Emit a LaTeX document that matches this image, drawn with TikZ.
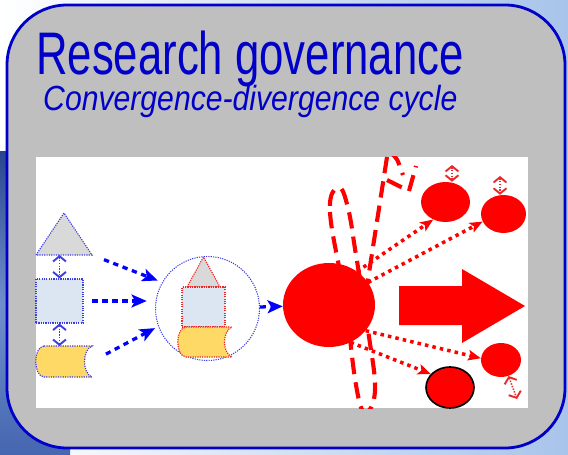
\documentclass[tikz,border=0pt]{standalone}
\usepackage{graphicx}
\usepackage{fontspec}
\setmainfont{Liberation Sans}
\usetikzlibrary{shapes.geometric,arrows.meta,calc}
\definecolor{titleblue}{RGB}{0,0,200}
\definecolor{panelgray}{RGB}{191,191,191}
\definecolor{skyblue}{RGB}{168,196,234}
\definecolor{skydark}{RGB}{42,69,144}
\definecolor{skymid}{RGB}{111,143,204}
\definecolor{skylow}{RGB}{69,102,176}
\definecolor{trigray}{RGB}{217,217,217}
\definecolor{boxblue}{RGB}{220,230,242}
\definecolor{gold}{RGB}{255,217,102}
\definecolor{dotblue}{RGB}{60,60,230}
\definecolor{dotred}{RGB}{235,40,40}

\begin{document}
\begin{tikzpicture}[x=0.03cm, y=-0.03cm,
  shapebox/.style={draw=none, inner sep=0, outer sep=0},
  blueedge/.style={draw=dotblue, line width=1pt, dash pattern=on 1pt off 1pt},
  rededge/.style={draw=dotred, line width=1pt, dash pattern=on 1pt off 1pt},
  blob/.style={ellipse, fill=red, inner sep=0},
  feed/.style={blue, line width=2.8pt, dash pattern=on 4.5pt off 4pt, -{Stealth[length=13pt,width=11pt,inset=3pt]}},
  spread/.style={red, line width=3pt, dash pattern=on 3pt off 3.5pt, -{Stealth[length=11pt,width=9pt,inset=2.5pt]}},
  twoway/.style={line width=1.3pt, dash pattern=on 1.2pt off 1.2pt, {Straight Barb[length=4.5pt,width=11pt,line width=1.6pt]}-{Straight Barb[length=4.5pt,width=11pt,line width=1.6pt]}},
  cutline/.style={red, line width=3.5pt, dash pattern=on 14pt off 7pt}]

  % background and panel
  \useasboundingbox (0,0) rectangle (568,455);
  \fill[left color=white, right color=skyblue] (0,0) rectangle (568,455);
  \fill[top color=skydark, bottom color=skylow, middle color=skymid] (0,152) rectangle (70,455);
  \filldraw[fill=panelgray, draw=titleblue, line width=2.4pt, rounded corners=1.8cm] (7,5) rectangle (565,448);
  \fill[white] (36,157) rectangle (528,408);

  \node[anchor=base west, inner sep=0, text=titleblue, font=\fontsize{51.3}{60}\selectfont] (title) at (36,75) {\scalebox{0.727}[1]{Research governance}};
  \node[anchor=base west, inner sep=0, text=titleblue, font=\fontsize{29.8}{34}\selectfont\itshape] (subtitle) at (43,111) {\scalebox{0.864}[1]{Convergence-divergence cycle}};

  % dashed cut lines
  \begin{scope}
    \clip (36,157) rectangle (528,408);
    \draw[cutline] plot[smooth cycle, tension=0.7] coordinates {(339,188) (330,212) (345,300) (356,385) (365,412) (375,390) (368,330) (356,255) (348,208)};
    \draw[cutline] (387,157) -- (366,292);
    \draw[cutline] (390,152) .. controls (397,158) .. (403,175);
    \draw[cutline] (387,180) -- (409,191) -- (416,166);
  \end{scope}

  % separate parts
  \node[shapebox, minimum width=1.68cm, minimum height=1.26cm] (tri) at (64,234) {};
  \draw[blueedge, fill=trigray] (tri.south west) -- (tri.north) -- (tri.south east) -- cycle;
  \node[rectangle, blueedge, fill=boxblue, minimum width=1.41cm, minimum height=1.32cm, inner sep=0] (sq) at (59.5,301) {};
  \node[shapebox, minimum width=1.68cm, minimum height=0.93cm] (cyl) at (64,361.5) {};
  \draw[blueedge, fill=gold] ($(cyl.north west)+(8,0)$) -- (cyl.north east)
    .. controls +(-10,4) and +(-10,-4) .. (cyl.south east) -- ($(cyl.south west)+(8,0)$)
    .. controls +(-11,-1) and +(-11,1) .. ($(cyl.north west)+(8,0)$) -- cycle;

  % converged group
  \node[circle, draw=dotblue, line width=0.9pt, dash pattern=on 1pt off 1pt, minimum size=3.12cm, inner sep=0] (grp) at (207.5,308.5) {};
  \node[shapebox, minimum width=0.99cm, minimum height=0.9cm] (gtri) at (203.5,272) {};
  \draw[rededge, fill=trigray] (gtri.south west) -- (gtri.north) -- (gtri.south east) -- cycle;
  \node[rectangle, rededge, fill=boxblue, minimum width=1.29cm, minimum height=1.2cm, inner sep=0] (gsq) at (203.5,307) {};
  \node[shapebox, minimum width=1.62cm, minimum height=0.9cm] (gcyl) at (205,342) {};
  \draw[rededge, fill=gold] ($(gcyl.north west)+(8,0)$) -- (gcyl.north east)
    .. controls +(-10,4) and +(-10,-4) .. (gcyl.south east) -- ($(gcyl.south west)+(8,0)$)
    .. controls +(-11,-1) and +(-11,1) .. ($(gcyl.north west)+(8,0)$) -- cycle;

  % diverging blobs
  \node[blob, minimum width=2.76cm, minimum height=2.52cm] (hub) at (329,305) {};
  \node[blob, minimum width=1.47cm, minimum height=1.2cm] (c1) at (445.5,202) {};
  \node[blob, minimum width=1.35cm, minimum height=1.14cm] (c2) at (503.5,214) {};
  \node[blob, minimum width=1.2cm, minimum height=1.02cm] (c3) at (501,360) {};
  \node[blob, draw=black, line width=1.4pt, minimum width=1.44cm, minimum height=1.23cm] (c4) at (450,387.5) {};
  \fill[red] (399,286) -- (462,286) -- (462,269) -- (525,306) -- (462,343) -- (462,325) -- (399,325) -- cycle;

  \coordinate (c1up) at (452,165);
  \coordinate (c2up) at (500,176);
  \coordinate (c3dn) at (517,399);

  % connectors
  \draw[twoway, dotblue] (sq.north |- tri.south) -- (sq.north);
  \draw[twoway, dotblue] (sq.south) -- (sq.south |- cyl.north);
  \draw[feed, shorten <=11pt, shorten >=4pt] (tri.south east) -- (grp.150);
  \draw[feed, shorten <=7.5pt, shorten >=7pt] (sq.east) -- (sq.east -| grp.west);
  \draw[feed, shorten <=13.5pt, shorten >=3pt] (cyl.east) -- (grp.200);
  \draw[feed, dash pattern=on 5pt off 4pt] (grp) -- (hub);
  \draw[spread] (hub.50) -- (c1.235);
  \draw[spread] (hub.30) -- (c2.200);
  \draw[spread] (hub.-35) -- (c3.175);
  \draw[spread] (hub.-60) -- (c4.145);
  \draw[twoway, dotred] (c1up) -- (c1up |- c1.north);
  \draw[twoway, dotred] (c2up) -- (c2up |- c2.north);
  \draw[twoway, dotred] (c3.-65) -- (c3dn);
\end{tikzpicture}
\end{document}
